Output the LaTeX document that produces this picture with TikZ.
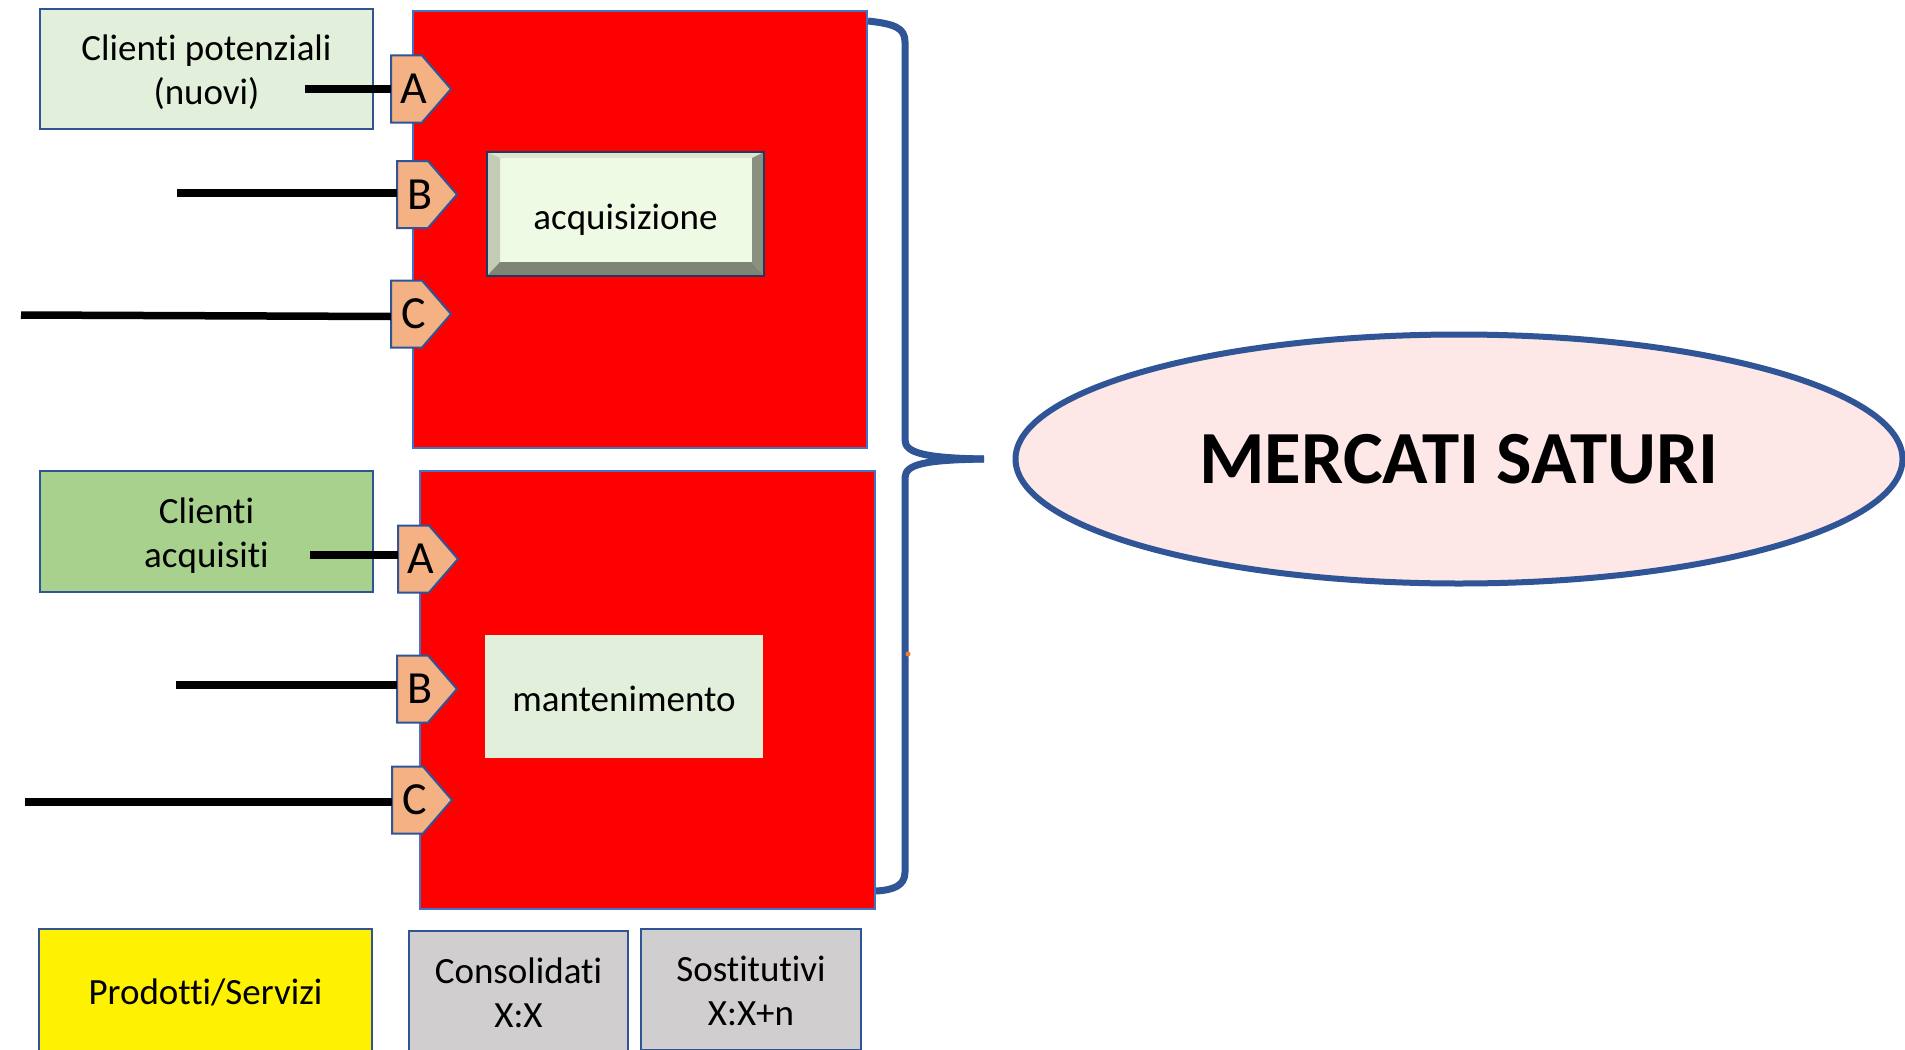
\documentclass[tikz,border=0pt]{standalone}
\usepackage{fontspec}
\setmainfont{Carlito}[RawFeature={-liga}]
\usetikzlibrary{shapes.geometric}
\definecolor{bord}{HTML}{2F5597}
\definecolor{redbord}{HTML}{4472C4}
\definecolor{pentfill}{HTML}{F4B183}
\definecolor{lgreen}{HTML}{E2EFDA}
\definecolor{mgreen}{HTML}{A9D18E}
\definecolor{greybox}{HTML}{D0CECE}
\definecolor{navy}{HTML}{203864}
\definecolor{face}{HTML}{EFFAE5}
\definecolor{bevtop}{HTML}{DDE5CF}
\definecolor{bevleft}{HTML}{C4CCB6}
\definecolor{bevbot}{HTML}{7F8474}
\definecolor{bevright}{HTML}{8A9080}
\definecolor{ellfill}{HTML}{FDE7E7}
\definecolor{dotc}{HTML}{ED7D31}
\newcommand{\pentshape}[2]{% left x, center y
  \filldraw[pent] (#1,#2-33.5) -- (#1+31,#2-33.5) -- (#1+60,#2) -- (#1+31,#2+33.5) -- (#1,#2+33.5) -- cycle;}
\newcommand{\tx}[2][5pt]{\raisebox{-#1}[\height][\depth]{\begin{tabular}{@{}c@{}}#2\end{tabular}}}
\begin{document}
\begin{tikzpicture}[x=1pt,y=-1pt,
  box/.style={draw=bord, line width=2.5pt, inner sep=0pt, font=\fontsize{37}{44}\selectfont},
  redbox/.style={draw=redbord, fill=red, line width=2pt, inner sep=0pt},
  pent/.style={fill=pentfill, draw=bord, line width=2pt},
  pentl/.style={inner sep=0pt, minimum width=46pt, minimum height=67pt, font=\fontsize{46}{50}\selectfont},
  conn/.style={line width=7.5pt, black},
  brace/.style={draw=bord, line width=7pt}]
\clip (0,0) rectangle (1905,1049);
\fill[white] (0,0) rectangle (1905,1049);

% boxes on the left
\node[box, fill=lgreen, minimum width=333pt, minimum height=120pt] (cp) at (206.5,69) {\tx{Clienti potenziali\\(nuovi)}};
\node[box, fill=mgreen, minimum width=333pt, minimum height=121pt] (ca) at (206.5,531.5) {\tx{Clienti\\acquisiti}};

% red boxes
\node[redbox, minimum width=454pt, minimum height=437pt] (red1) at (640,229.5) {};
\node[redbox, minimum width=455pt, minimum height=438pt] (red2) at (647.5,690) {};

% bevel box
\fill[face] (487,152) rectangle (764,276);
\fill[bevtop] (487,152) -- (764,152) -- (752,158) -- (500,158) -- cycle;
\fill[bevleft] (487,152) -- (500,158) -- (500,262) -- (487,276) -- cycle;
\fill[bevbot] (487,276) -- (500,262) -- (752,262) -- (764,276) -- cycle;
\fill[bevright] (764,152) -- (752,158) -- (752,262) -- (764,276) -- cycle;
\node[draw=navy, line width=2.5pt, inner sep=0pt, minimum width=277pt, minimum height=124pt,
      font=\fontsize{37}{44}\selectfont] (acq) at (625.5,214) {\tx[6.5pt]{acquisizione}};

\node[fill=lgreen, inner sep=0pt, minimum width=278pt, minimum height=123pt,
      font=\fontsize{37}{44}\selectfont] (man) at (624,696.5) {\tx[6pt]{mantenimento}};

% pentagons
\pentshape{391}{89}
\node[pentl] (pA1) at (414,89) {A};
\pentshape{397}{194.5}
\node[pentl] (pB1) at (420,194.5) {B};
\pentshape{391}{314}
\node[pentl] (pC1) at (414,314) {C};
\pentshape{398}{559}
\node[pentl] (pA2) at (421,559) {A};
\pentshape{397}{689}
\node[pentl] (pB2) at (420,689) {B};
\pentshape{392}{800}
\node[pentl] (pC2) at (415,800) {C};

% connectors
\coordinate (sA1) at (305,89);
\coordinate (sB1) at (177,193);
\coordinate (sC1) at (21,315);
\coordinate (sA2) at (310,555);
\coordinate (sB2) at (176,685);
\coordinate (sC2) at (25,802);
\draw[conn] (sA1) -- (sA1 -| pA1.west);
\draw[conn] (sB1) -- (sB1 -| pB1.west);
\draw[conn] (sC1) -- ([yshift=-1.5pt]sC1 -| pC1.west);
\draw[conn] (sA2) -- (sA2 -| pA2.west);
\draw[conn] (sB2) -- (sB2 -| pB2.west);
\draw[conn] (sC2) -- (sC2 -| pC2.west);

% bottom boxes
\node[box, fill=yellow, minimum width=333pt, minimum height=123pt] (prod) at (205.5,990.5) {\tx{Prodotti/Servizi}};
\node[box, fill=greybox, minimum width=219pt, minimum height=121pt] (cons) at (518.5,991.5) {\tx{Consolidati\\X:X}};
\node[box, fill=greybox, minimum width=220pt, minimum height=121pt] (sost) at (751,989.5) {\tx{Sostitutivi\\X:X+n}};

% ellipse
\node[ellipse, draw=bord, fill=ellfill, line width=6pt, minimum width=887pt, minimum height=249pt,
      inner sep=0pt, font=\fontsize{75}{84}\selectfont\bfseries] (ms) at (1459,459) {MERCATI SATURI};

% brace
\coordinate (tip) at (984,459);
\draw[brace] (red1.north east) ++(0,11) .. controls (895,24) and (905,28) .. (905,42)
   -- (905,440) .. controls (905,453) and (925,458) .. (tip);
\draw[brace] (tip) .. controls (925,460) and (905,464) .. (905,478)
   -- (905,872) .. controls (905,886) and (893,890) .. (red2.east |- 0,891);

\fill[dotc] (908,654) circle (2.5pt);
\end{tikzpicture}
\end{document}
